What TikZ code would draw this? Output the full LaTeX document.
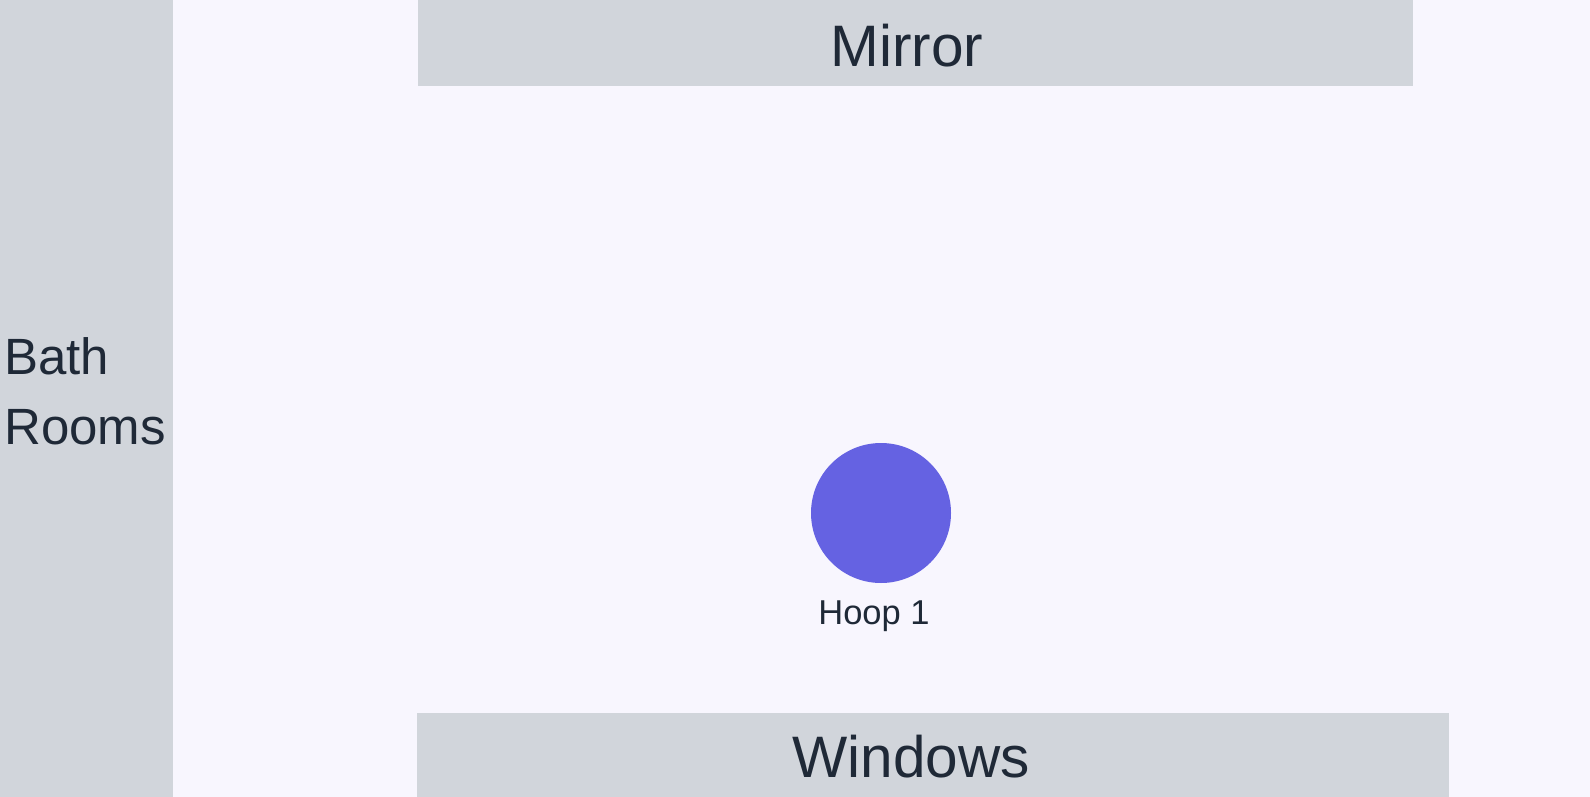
\documentclass[tikz,border=0pt]{standalone}
\usepackage{fontspec}
\setmainfont{Liberation Sans}
\definecolor{bgc}{HTML}{F8F6FE}
\definecolor{wallc}{HTML}{D1D5DB}
\definecolor{hoopc}{HTML}{6562E2}
\definecolor{txtc}{HTML}{1F2937}
\tikzset{
  wall/.style={fill=wallc, draw=none},
  walllabel/.style={text=txtc, inner sep=0pt, anchor=base, font=\fontsize{58.5}{70}\selectfont},
  hoop/.style={circle, fill=hoopc, draw=none, minimum size=140pt, inner sep=0pt},
  hooplabel/.style={text=txtc, inner sep=0pt, anchor=base, font=\fontsize{34.5}{40}\selectfont},
}
\begin{document}
\begin{tikzpicture}[x=1pt,y=-1pt]
\useasboundingbox (0,0) rectangle (1590,797);
\fill[bgc] (0,0) rectangle (1590,797);
% walls
\path[wall] (0,0) rectangle (173,797);
\path[wall] (418,0) rectangle (1413,86);
\path[wall] (417,713) rectangle (1449,797);
% labels
\node[walllabel] (mirror) at (907,67) {Mirror};
\node[walllabel] (windows) at (911,777) {Windows};
\node[text=txtc, inner sep=0pt, anchor=base west, align=left,
      font=\fontsize{51}{70}\selectfont] (bath) at (4,444) {Bath\\Rooms};
% hoop
\node[hoop] (hoop1) at (881,513) {};
\node[hooplabel] (hoop1label) at (874,624) {Hoop 1};
\end{tikzpicture}
\end{document}
